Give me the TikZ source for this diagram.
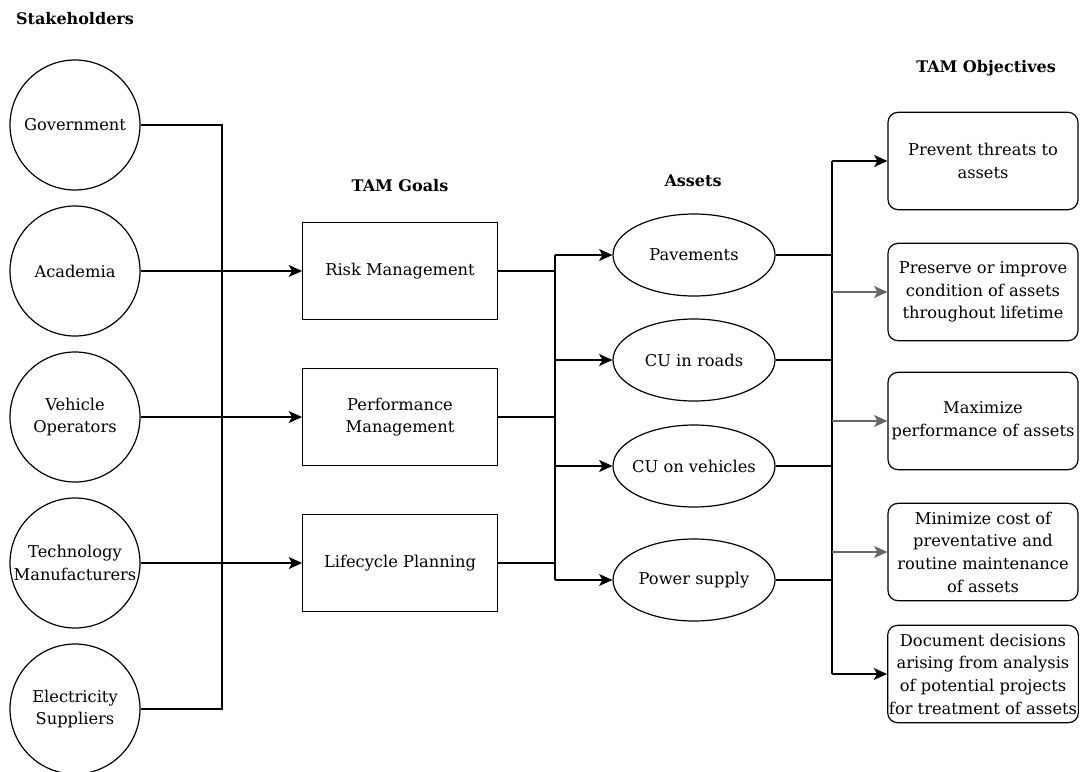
\documentclass[tikz,border=0pt]{standalone}
\usepackage{fontspec}
\setmainfont{DejaVu Serif}
\usetikzlibrary{arrows.meta,shapes.geometric}

\begin{document}
\begin{tikzpicture}[x=0.75pt,y=-0.75pt,
    txt/.style={font=\fontsize{12.2}{17}\selectfont},
    holder/.style={txt,circle,draw,line width=0.9pt,minimum size=97.5pt,inner sep=0pt,align=center},
    goal/.style={txt,rectangle,draw,line width=0.9pt,minimum width=146pt,minimum height=73pt,align=center},
    asset/.style={txt,ellipse,draw,line width=0.9pt,minimum width=121.5pt,minimum height=61.5pt,inner xsep=-6pt,inner ysep=0pt,align=center},
    objective/.style={txt,rectangle,rounded corners=7.5pt,draw,line width=0.9pt,minimum width=142.5pt,minimum height=73pt,inner sep=1pt,align=center},
    heading/.style={font=\bfseries\fontsize{12}{14}\selectfont},
    wire/.style={line width=0.9pt},
    feed/.style={wire,-{Stealth[length=10pt,width=9pt,inset=2.5pt]}},
    feedgray/.style={feed,draw=black!60}]
  \useasboundingbox (0,0) rectangle (1080,771);

  \node[heading] (stkhd) at (75,19) {Stakeholders};
  \node[holder] (gov) at (75,125) {Government};
  \node[holder] (acad) at (75,271) {Academia};
  \node[holder] (veh) at (75,417) {Vehicle\\Operators};
  \node[holder] (tech) at (75,563) {Technology\\Manufacturers};
  \node[holder] (elec) at (75,709) {Electricity\\Suppliers};

  \node[heading] (goalhd) at (400,186) {TAM Goals};
  \node[goal] (risk) at (400,271) {Risk Management};
  \node[goal] (perf) at (400,417) {Performance\\Management};
  \node[goal] (life) at (400,563) {Lifecycle Planning};

  \node[heading] (assethd) at (693,181) {Assets};
  \node[asset] (pave) at (694,255) {Pavements};
  \node[asset] (road) at (694,360) {CU in roads};
  \node[asset] (cuveh) at (694,466) {CU on vehicles};
  \node[asset] (power) at (694,580) {Power supply};

  \node[heading] (objhd) at (986,68) {TAM Objectives};
  \node[objective] (prev) at (983,161) {Prevent threats to\\assets};
  \node[objective] (pres) at (983,292) {Preserve or improve\\condition of assets\\throughout lifetime};
  \node[objective] (maxi) at (983,421) {Maximize\\performance of assets};
  \node[objective] (mini) at (983,552) {Minimize cost of\\preventative and\\routine maintenance\\of assets};
  \node[objective] (docu) at (983,674) {Document decisions\\arising from analysis\\of potential projects\\for treatment of assets};

  \coordinate (busA) at (222,0);
  \coordinate (busB) at (555,0);
  \coordinate (busC) at (832,0);

  \draw[wire] (gov.east) -- (gov.east -| busA) -- (elec.east -| busA) -- (elec.east);
  \draw[feed] (acad.east) -- (risk.west);
  \draw[feed] (veh.east) -- (perf.west);
  \draw[feed] (tech.east) -- (life.west);

  \foreach \g in {risk,perf,life}
    \draw[wire] (\g.east) -- (\g.east -| busB);
  \draw[wire] (pave.west -| busB) -- (power.west -| busB);
  \foreach \a in {pave,road,cuveh,power}
    \draw[feed] (\a.west -| busB) -- (\a.west);

  \foreach \a in {pave,road,cuveh,power}
    \draw[wire] (\a.east) -- (\a.east -| busC);
  \draw[wire] (prev.west -| busC) -- (docu.west -| busC);
  \draw[feed] (prev.west -| busC) -- (prev.west);
  \foreach \o in {pres,maxi,mini}
    \draw[feedgray] (\o.west -| busC) -- (\o.west);
  \draw[feed] (docu.west -| busC) -- (docu.west);
\end{tikzpicture}
\end{document}
